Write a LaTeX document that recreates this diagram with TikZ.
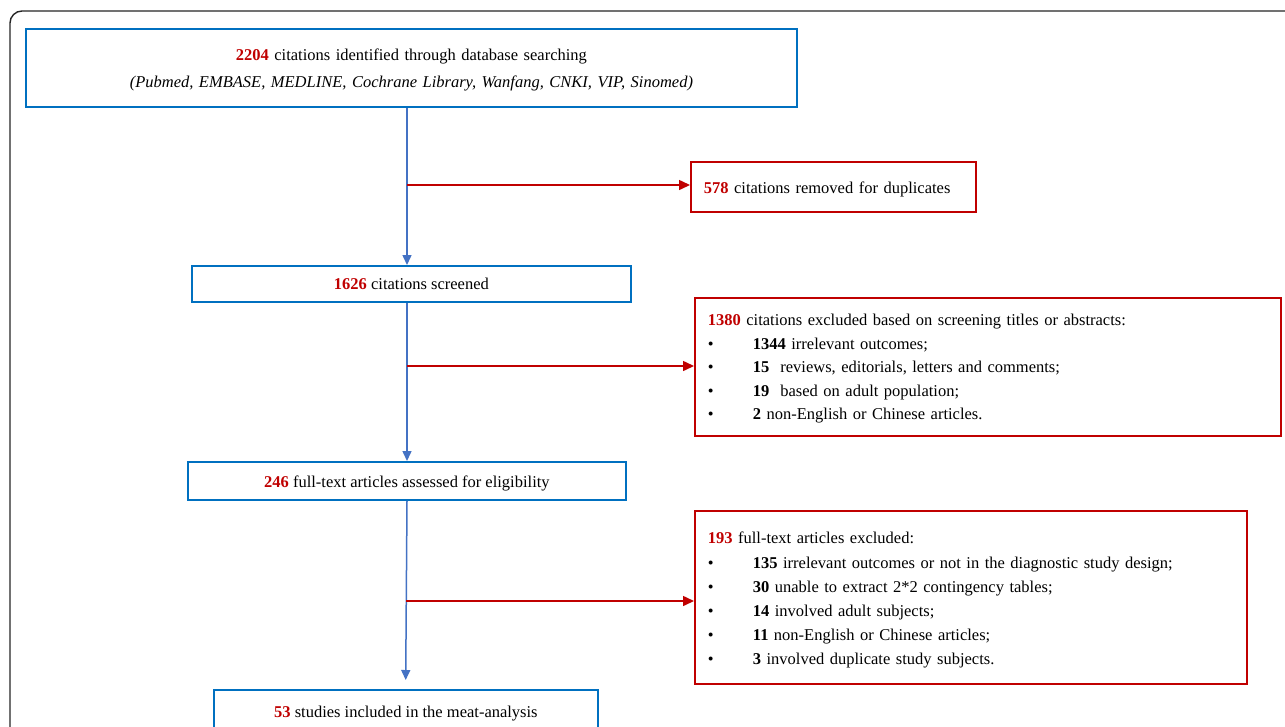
\documentclass[tikz,border=0pt]{standalone}
\usepackage{fontspec}
\setmainfont{Liberation Serif}
\usetikzlibrary{arrows.meta}
\definecolor{boxblue}{RGB}{0,112,192}
\definecolor{arrblue}{RGB}{68,114,196}
\definecolor{myred}{RGB}{192,0,0}
\newcommand{\rn}[1]{\textcolor{myred}{\textbf{#1}}}
\newcommand{\bl}{\makebox[45pt][l]{\textbullet}}
\newcommand{\topstrut}[1]{\rule{0pt}{#1}}
\newcommand{\botstrut}[1]{\rule[-#1]{0pt}{#1}}
\begin{document}
\begin{tikzpicture}[x=1pt,y=-1pt,
  every node/.style={font=\fontsize{16.5}{23.5}\selectfont},
  bluebox/.style={draw=boxblue, line width=1.8pt, inner xsep=0pt, inner ysep=0pt, align=center},
  redbox/.style={draw=myred, line width=1.8pt, inner xsep=13pt, inner ysep=0pt, align=left, anchor=north west},
  barrow/.style={draw=arrblue, line width=1.5pt, -{Triangle[length=10pt,width=9pt]}},
  rarrow/.style={draw=myred, line width=1.5pt, -{Triangle[length=11pt,width=10pt]}},
  frame/.style={draw=black!85, line width=1.4pt, rounded corners=12pt}
]
\useasboundingbox (0,0) rectangle (1285,726);
\clip (0,0) rectangle (1285,726);
\fill[white] (0,0) rectangle (1285,726);
\draw[frame] (10,780) -- (10,11) -- (1320,11);

% main (blue) boxes
\node[bluebox, text width=771pt, anchor=north west,
      font=\fontsize{16.5}{27.4}\selectfont] (b1) at (25,28)
  {\topstrut{31.3pt}\rn{2204} citations identified through database searching\\
   \textit{(Pubmed, EMBASE, MEDLINE, Cochrane Library, Wanfang, CNKI, VIP, Sinomed)}\botstrut{19.3pt}};
\node[bluebox, minimum width=439pt, text height=23.5pt, text depth=12.5pt, anchor=north west] (b2) at (191,265)
  {\rn{1626} citations screened};
\node[bluebox, minimum width=438pt, text height=26pt, text depth=12pt, anchor=north west] (b3) at (187,461)
  {\rn{246} full-text articles assessed for eligibility};
\node[bluebox, minimum width=384pt, text height=27.5pt, text depth=30pt, anchor=north west] (b4) at (213,689)
  {\rn{53} studies included in the meat-analysis};

% exclusion (red) boxes
\node[redbox, text width=259pt] (ra) at (690,161.3)
  {\topstrut{31.7pt}\rn{578} citations removed for duplicates\botstrut{17.7pt}};
\node[redbox, text width=560pt] (rb) at (694,296.7)
  {\topstrut{28.3pt}\rn{1380} citations excluded based on screening titles or abstracts:\\
   \bl\textbf{1344} irrelevant outcomes;\\
   \bl\textbf{15}\ \ reviews, editorials, letters and comments;\\
   \bl\textbf{19}\ \ based on adult population;\\
   \bl\textbf{2} non-English or Chinese articles.\botstrut{15.7pt}};
\node[redbox, text width=526pt, font=\fontsize{16.5}{24.2}\selectfont] (rc) at (694,510)
  {\topstrut{33pt}\rn{193} full-text articles excluded:\\
   \bl\textbf{135} irrelevant outcomes or not in the diagnostic study design;\\
   \bl\textbf{30} unable to extract 2*2 contingency tables;\\
   \bl\textbf{14} involved adult subjects;\\
   \bl\textbf{11} non-English or Chinese articles;\\
   \bl\textbf{3} involved duplicate study subjects.\botstrut{19.4pt}};

% junction points on the main flow
\coordinate (j1) at (407,185);
\coordinate (j2) at (407,366);
\coordinate (j3) at (406,601);
\coordinate (e4) at (405.7,680);

% main flow arrows
\draw[barrow] (b1.south -| j1) -- (j1 |- b2.north);
\draw[barrow] (b2.south -| j2) -- (j2 |- b3.north);
\draw[barrow] (b3.south -| j2) -- (e4);

% exclusion arrows
\draw[rarrow] (j1) -- (ra.west |- j1);
\draw[rarrow] (j2) -- (rb.west |- j2);
\draw[rarrow] (j3) -- (rc.west |- j3);
\end{tikzpicture}
\end{document}
